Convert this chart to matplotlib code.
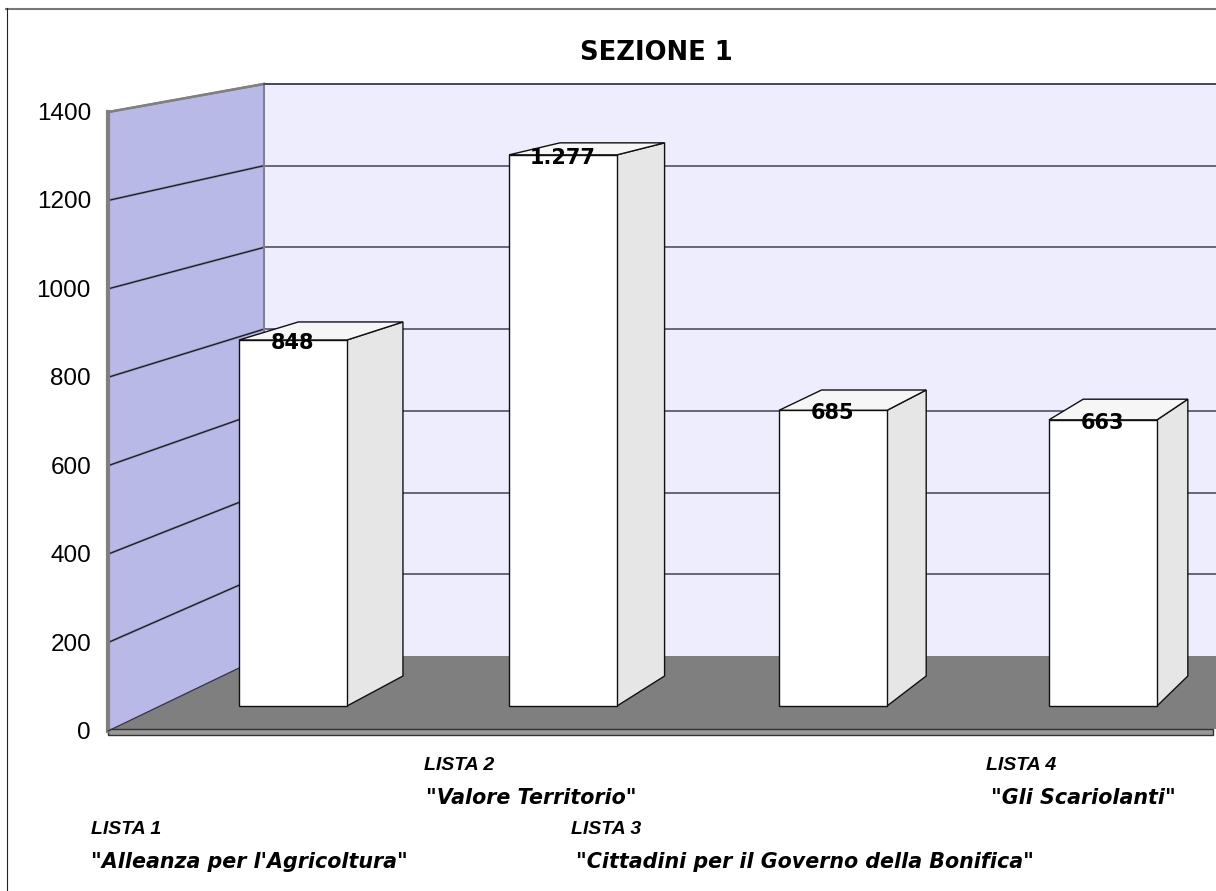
import matplotlib
matplotlib.use("Agg")
import matplotlib.pyplot as plt
from matplotlib.patches import Polygon, Rectangle

title = "SEZIONE 1"
values = [848, 1277, 685, 663]
value_labels = ["848", "1.277", "685", "663"]
y_ticks = [0, 200, 400, 600, 800, 1000, 1200, 1400]
list_names = ["LISTA 1", "LISTA 2", "LISTA 3", "LISTA 4"]
list_mottos = ["\"Alleanza per l'Agricoltura\"", "\"Valore Territorio\"",
               "\"Cittadini per il Governo della Bonifica\"", "\"Gli Scariolanti\""]

W, H = 1216, 891
label_font = ["DejaVu Sans"]

# depth planes of the fake 3d chart, in pixels: baseline y and px per unit
def front_y(v):
    return 731 - v * 0.4421

def wall_y(v):
    return 656 - v * 0.4086

def bar_y(v):
    return 706 - v * 0.4316

def bar_back_y(v):
    return 676 - v * 0.4175

def bar_back_x(x):
    return 66.7 + 0.969 * x

fig = plt.figure(figsize=(W / 100, H / 100), dpi=100, facecolor="white")
ax = fig.add_axes([0, 0, 1, 1])
ax.set_xlim(0, W)
ax.set_ylim(H, 0)
ax.axis("off")

# outer frame, only top and left show
ax.plot([6, W], [8.5, 8.5], color="#777777", lw=1.5, zorder=0)
ax.plot([6.5, 6.5], [8, H], color="#222222", lw=0.8, zorder=0)

# back wall, side wall, floor
top = y_ticks[-1]
ax.add_patch(Polygon([(264, wall_y(top)), (W, wall_y(top)), (W, wall_y(0)), (264, wall_y(0))],
                     fc="#ededfe", ec="none", zorder=1))
ax.add_patch(Polygon([(108, front_y(top)), (264, wall_y(top)), (264, wall_y(0)), (108, front_y(0))],
                     fc="#b9b9e8", ec="none", zorder=1))
ax.add_patch(Polygon([(108, front_y(0)), (264, wall_y(0)), (W, wall_y(0)), (W, 729), (1213, 729)],
                     fc="#7f7f7f", ec="none", zorder=2))
ax.add_patch(Rectangle((108, 729), 1105, 6, fc="#999999", ec="#333333", lw=1, zorder=3))

# grid lines
for v in y_ticks[1:]:
    ax.plot([264, W], [wall_y(v), wall_y(v)], color="#505060", lw=1.2, zorder=2)
    ax.plot([108, 264], [front_y(v), wall_y(v)], color="#7a7a9a", lw=1.6, zorder=2)
    ax.plot([108, 264], [front_y(v), wall_y(v)], color="#111111", lw=0.7, zorder=2)
ax.plot([108, 108], [front_y(top), front_y(0)], color="#808080", lw=3, zorder=3)
ax.plot([264, 264], [wall_y(top), wall_y(0)], color="#808090", lw=1.5, zorder=2)
ax.plot([108, 264], [front_y(top), wall_y(top)], color="#808080", lw=1.8, zorder=3)
ax.plot([264, W], [wall_y(top), wall_y(top)], color="#444455", lw=1.2, zorder=3)
ax.plot([108, 264], [front_y(0), wall_y(0)], color="#333344", lw=0.9, zorder=3)

# bars
bar_w = 108
for i, v in enumerate(values):
    x0 = 239 + i * 270
    x1 = x0 + bar_w
    bx0, bx1 = bar_back_x(x0), bar_back_x(x1)
    ax.add_patch(Polygon([(x1, bar_y(0)), (bx1, bar_back_y(0)), (bx1, bar_back_y(v)), (x1, bar_y(v))],
                         fc="#e6e6e6", ec="#111111", lw=1, zorder=4))
    ax.add_patch(Polygon([(x0, bar_y(v)), (bx0, bar_back_y(v)), (bx1, bar_back_y(v)), (x1, bar_y(v))],
                         fc="#f6f6f6", ec="#111111", lw=1, zorder=4))
    ax.add_patch(Rectangle((x0, bar_y(v)), bar_w, v * 0.4316, fc="white", ec="#111111", lw=1, zorder=5))
    ax.text(x0 + bar_w / 2, bar_y(v) + 3, value_labels[i], ha="center", va="center",
            fontsize=15, fontweight="bold", family=label_font, zorder=6)

ax.text(656.5, 53, title, ha="center", va="center", fontsize=18.6, fontweight="bold", family=label_font)

# tick labels
for v in y_ticks:
    ax.text(91, front_y(v) + 2, str(v), ha="right", va="center", fontsize=17.5, family="Liberation Sans")

# list labels below the floor
name_pos = [(91, 829), (424, 765), (571, 829), (986, 765)]
motto_pos = [(91, 862), (426, 798), (576, 862), (991, 798)]
for i in range(4):
    ax.text(name_pos[i][0], name_pos[i][1], list_names[i], ha="left", va="center", fontsize=14,
            style="italic", fontweight="bold", family="Liberation Sans")
    ax.text(motto_pos[i][0], motto_pos[i][1], list_mottos[i], ha="left", va="center", fontsize=14.9,
            style="italic", fontweight="bold", family=label_font)

fig.savefig("out.png", dpi=100)
